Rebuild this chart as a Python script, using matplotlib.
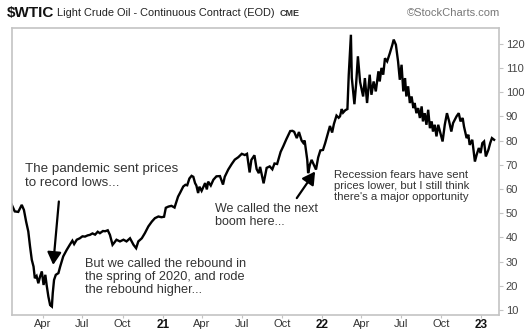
import matplotlib
matplotlib.use("Agg")
import matplotlib.pyplot as plt
import pandas as pd

plt.rcParams["font.family"] = ["Liberation Sans", "DejaVu Sans"]

# WTI continuous contract, end-of-day closes
dates = [
    "2020-01-21", "2020-01-28", "2020-02-05", "2020-02-13", "2020-02-18", "2020-02-23",
    "2020-02-28", "2020-03-03", "2020-03-07", "2020-03-11", "2020-03-14", "2020-03-18",
    "2020-03-22", "2020-03-26", "2020-03-30", "2020-04-03", "2020-04-07", "2020-04-10",
    "2020-04-14", "2020-04-18", "2020-04-22", "2020-04-24", "2020-04-27", "2020-05-01",
    "2020-05-07", "2020-05-11", "2020-05-18", "2020-05-26", "2020-06-02", "2020-06-08",
    "2020-06-12", "2020-06-18", "2020-06-25", "2020-07-01", "2020-07-07", "2020-07-13",
    "2020-07-18", "2020-07-24", "2020-07-30", "2020-08-05", "2020-08-10", "2020-08-17",
    "2020-08-22", "2020-08-28", "2020-09-02", "2020-09-08", "2020-09-12", "2020-09-17",
    "2020-09-25", "2020-10-03", "2020-10-10", "2020-10-18", "2020-10-26", "2020-11-01",
    "2020-11-06", "2020-11-14", "2020-11-21", "2020-11-29", "2020-12-07", "2020-12-14",
    "2020-12-22", "2020-12-29",
    "2021-01-04", "2021-01-08", "2021-01-14", "2021-01-21", "2021-01-28", "2021-02-05",
    "2021-02-10", "2021-02-17", "2021-02-22", "2021-02-26", "2021-03-03", "2021-03-08",
    "2021-03-12", "2021-03-16", "2021-03-19", "2021-03-23", "2021-03-26", "2021-03-31",
    "2021-04-08", "2021-04-12", "2021-04-15", "2021-04-21", "2021-04-27", "2021-05-04",
    "2021-05-12", "2021-05-19", "2021-05-23", "2021-05-31", "2021-06-08", "2021-06-15",
    "2021-06-23", "2021-07-01", "2021-07-08", "2021-07-13", "2021-07-19", "2021-07-23",
    "2021-07-30", "2021-08-04", "2021-08-09", "2021-08-12", "2021-08-20", "2021-08-27",
    "2021-09-03", "2021-09-09", "2021-09-14", "2021-09-20", "2021-09-28", "2021-10-04",
    "2021-10-11", "2021-10-20", "2021-10-25", "2021-10-29", "2021-11-04", "2021-11-09",
    "2021-11-15", "2021-11-19", "2021-11-22", "2021-11-25", "2021-11-28", "2021-11-30",
    "2021-12-04", "2021-12-08", "2021-12-13", "2021-12-18", "2021-12-23", "2021-12-28",
    "2022-01-03", "2022-01-08", "2022-01-13", "2022-01-19", "2022-01-24", "2022-01-28",
    "2022-02-03", "2022-02-08", "2022-02-11", "2022-02-15", "2022-02-18", "2022-02-23",
    "2022-02-28", "2022-03-03", "2022-03-08", "2022-03-10", "2022-03-16", "2022-03-20",
    "2022-03-24", "2022-03-29", "2022-04-05", "2022-04-09", "2022-04-14", "2022-04-20",
    "2022-04-24", "2022-04-29", "2022-05-04", "2022-05-10", "2022-05-13", "2022-05-17",
    "2022-05-21", "2022-05-25", "2022-05-30", "2022-06-05", "2022-06-11", "2022-06-14",
    "2022-06-19", "2022-06-24", "2022-06-28", "2022-07-02", "2022-07-06", "2022-07-10",
    "2022-07-13", "2022-07-17", "2022-07-21", "2022-07-25", "2022-07-29", "2022-08-01",
    "2022-08-05", "2022-08-09", "2022-08-13", "2022-08-17", "2022-08-20", "2022-08-24",
    "2022-08-28", "2022-09-01", "2022-09-05", "2022-09-09", "2022-09-12", "2022-09-16",
    "2022-09-20", "2022-09-24", "2022-09-29", "2022-10-04", "2022-10-09", "2022-10-14",
    "2022-10-19", "2022-10-24", "2022-10-28", "2022-11-05", "2022-11-10", "2022-11-14",
    "2022-11-19", "2022-11-22", "2022-11-28", "2022-12-02", "2022-12-05", "2022-12-11",
    "2022-12-17", "2022-12-21", "2022-12-26", "2022-12-30", "2023-01-03", "2023-01-07",
    "2023-01-11", "2023-01-17", "2023-01-21", "2023-01-25", "2023-01-30",
]
closes = [
    53.5, 50.7, 50.5, 53.4, 51.3, 46.5,
    42.4, 36.2, 30.7, 27.9, 23.1, 24.0,
    21.0, 23.8, 25.9, 20.3, 24.5, 20.3,
    15.5, 12.0, 11.4, 16.9, 22.4, 24.5,
    25.2, 27.9, 32.1, 34.8, 36.9, 38.6,
    37.2, 39.0, 39.6, 40.4, 40.3, 40.8,
    41.0, 41.6, 41.1, 42.3, 41.7, 42.6,
    42.5, 42.9, 41.0, 36.9, 37.8, 39.0,
    38.3, 39.0, 38.3, 39.6, 36.9, 35.5,
    38.3, 39.6, 41.7, 44.5, 46.5, 47.9,
    48.6, 48.3,
    48.5, 52.2, 52.7, 53.0, 52.3, 56.8,
    58.5, 61.0, 61.7, 61.5, 64.3, 65.4,
    65.0, 62.4, 61.4, 58.3, 60.9, 59.2,
    62.4, 59.8, 63.0, 61.4, 63.8, 65.2,
    65.3, 61.8, 65.0, 68.0, 70.3, 72.1,
    73.1, 74.5, 74.0, 74.5, 66.8, 72.0,
    73.9, 68.2, 66.5, 69.1, 62.3, 68.7,
    69.3, 68.1, 70.5, 70.3, 75.3, 77.6,
    80.5, 83.9, 84.0, 83.6, 81.0, 83.5,
    80.0, 79.0, 80.0, 76.0, 72.0, 66.5,
    70.0, 72.0, 70.0, 68.0, 73.0, 75.9,
    76.1, 78.9, 82.1, 86.0, 83.3, 86.8,
    90.3, 89.4, 90.0, 93.0, 91.5, 92.5,
    93.0, 107.0, 123.7, 106.0, 95.0, 103.5,
    114.8, 104.2, 98.2, 105.8, 95.5, 107.2,
    98.9, 104.4, 100.3, 108.6, 104.4, 110.0,
    107.2, 114.0, 112.7, 116.0, 119.6, 121.7,
    119.6, 112.7, 105.1, 111.3, 100.3, 105.8,
    98.2, 102.4, 95.5, 98.2, 93.4, 95.5,
    91.3, 93.4, 89.3, 94.1, 87.9, 91.3,
    86.5, 92.7, 85.1, 87.9, 83.7, 86.5,
    81.7, 86.5, 83.1, 79.6, 86.5, 91.3,
    87.9, 83.7, 87.2, 90.0, 91.3, 87.9,
    89.3, 85.8, 81.0, 82.4, 78.2, 80.3,
    71.3, 74.1, 76.9, 74.8, 78.9, 79.6,
    73.4, 76.2, 78.9, 81.0, 80.3,
]

tick_dates = ["2020-04-01", "2020-07-01", "2020-10-01", "2021-01-01",
              "2021-04-01", "2021-07-01", "2021-10-01", "2022-01-01",
              "2022-04-01", "2022-07-01", "2022-10-01", "2023-01-01"]
tick_labels = ["Apr", "Jul", "Oct", "21", "Apr", "Jul", "Oct", "22",
               "Apr", "Jul", "Oct", "23"]
price_ticks = [10, 20, 30, 40, 50, 60, 70, 80, 90, 100, 110, 120]

# Callout notes: (text, anchor date, anchor price, font size)
notes = [
    ("The pandemic sent prices\nto record lows...", "2020-02-20", 65.4, 9.6),
    ("But we called the rebound in\nthe spring of 2020, and rode\nthe rebound higher...",
     "2020-07-06", 23.6, 9.2),
    ("We called the next\nboom here...", "2021-05-01", 48.9, 9.0),
    ("Recession fears have sent\nprices lower, but I still think\nthere's a major opportunity",
     "2022-01-29", 61.3, 8.2),
]
# Arrows: (tail date, tail price, tip date, tip price)
arrows = [
    ("2020-05-08", 54.8, "2020-04-25", 28.6),
    ("2021-11-04", 56.2, "2021-12-16", 67.2),
]

text_color = "#333333"
frame_color = "#c4c4c4"

fig = plt.figure(figsize=(5.25, 3.3), dpi=100)
ax = fig.add_axes([0.0223, 0.0455, 0.928, 0.8697])

x = pd.to_datetime(dates)
ax.plot(x, closes, color="black", lw=1.7, solid_joinstyle="miter")

ax.set_xlim(pd.Timestamp("2020-01-21"), pd.Timestamp("2023-02-10"))
ax.set_ylim(7.9, 126.5)

ax.yaxis.tick_right()
ax.set_yticks(price_ticks)
ax.set_yticklabels([str(v) for v in price_ticks])
ax.tick_params(axis="y", length=3, width=0.8, color=frame_color, pad=2,
               labelsize=8, labelcolor="#444444")

ax.set_xticks(pd.to_datetime(tick_dates))
ax.set_xticklabels(tick_labels)
ax.tick_params(axis="x", length=2, width=0.8, color=frame_color, pad=1,
               labelsize=8, labelcolor="#333333")
for lbl in ax.get_xticklabels():
    if lbl.get_text().isdigit():
        lbl.set_fontweight("bold")
        lbl.set_fontsize(8.5)
        lbl.set_color("#111111")

for side in ("left", "right", "top", "bottom"):
    ax.spines[side].set_color(frame_color)
    ax.spines[side].set_linewidth(1.2)

for text, d, y, size in notes:
    ax.text(pd.Timestamp(d), y, text, fontsize=size, color=text_color,
            ha="left", va="center", linespacing=1.15)

for d0, y0, d1, y1 in arrows:
    ax.annotate("", xy=(pd.Timestamp(d1), y1), xytext=(pd.Timestamp(d0), y0),
                arrowprops=dict(arrowstyle="-|>,head_length=0.75,head_width=0.42",
                                mutation_scale=10, color="black", lw=1.6,
                                shrinkA=0, shrinkB=0))

# Header line
fig.text(7 / 525, 1 - 13 / 330, "$WTIC", fontsize=11, fontweight="bold",
         color="#111111", ha="left", va="center")
fig.text(57 / 525, 1 - 13 / 330, "Light Crude Oil - Continuous Contract (EOD)",
         fontsize=7.9, color="#222222", ha="left", va="center")
fig.text(280 / 525, 1 - 13 / 330, "CME", fontsize=6.5, fontweight="bold",
         color="#333333", ha="left", va="center")
fig.text(500 / 525, 1 - 13 / 330, "©StockCharts.com", fontsize=8,
         color="#777777", ha="right", va="center")

fig.savefig("out.png", dpi=100, facecolor="white")
